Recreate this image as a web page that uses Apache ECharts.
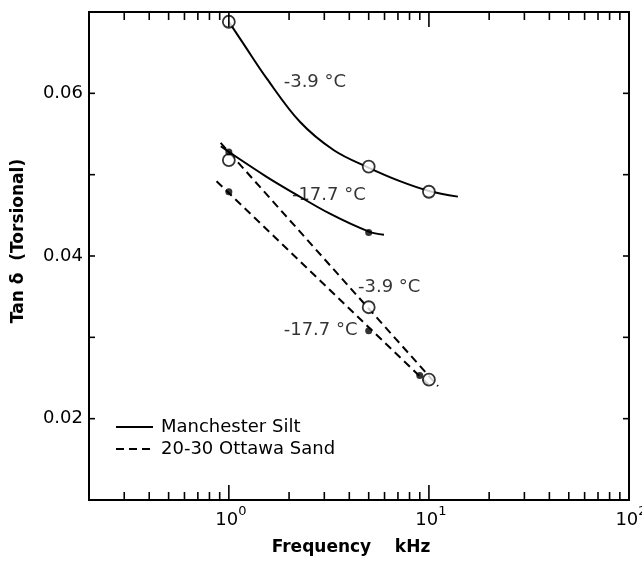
<!DOCTYPE html>
<html>
<head>
<meta charset="utf-8">
<script src="https://cdn.jsdelivr.net/npm/echarts@6/dist/echarts.min.js"></script>
<style>html,body{margin:0;padding:0;background:#fff}#c{width:642px;height:563px}</style>
</head>
<body>
<div id="c"></div>
<script>
// ---- data ----
// Manchester Silt, -3.9 C (open circles) and its drawn curve
const silt39Points = [[1, 0.0688], [5, 0.0510], [10, 0.0479]];
const silt39CurveX = [1, 1.175, 1.549, 2.265, 3.35, 4.95, 7.16, 10, 13.96];
const silt39CurveY = [0.0688, 0.0662, 0.0618, 0.0565, 0.0530, 0.0509, 0.0492, 0.0480, 0.0473];
// Manchester Silt, -17.7 C (filled dots) and its drawn curve
const silt177Points = [[1, 0.0528], [5, 0.0429]];
const silt177CurveX = [0.912, 1, 1.531, 2.089, 3.2, 5.01, 5.96];
const silt177CurveY = [0.0535, 0.0528, 0.0498, 0.0478, 0.0452, 0.0430, 0.0426];
// 20-30 Ottawa Sand, -3.9 C (open circles) and its straight line
const sand39Points = [[1, 0.0518], [5, 0.0337], [10, 0.0248]];
const sand39LineX = [0.91, 11.1];
const sand39LineY = [0.0539, 0.0240];
// 20-30 Ottawa Sand, -17.7 C (filled dots) and its straight line
const sand177Points = [[1, 0.0479], [5, 0.0308], [9, 0.0253]];
const sand177LineX = [0.868, 10.33];
const sand177LineY = [0.0492, 0.0238];
// curve annotations
const annoTexts = ['-3.9 °C', '-17.7 °C', '-3.9 °C', '-17.7 °C'];
const annoX = [1.88, 2.066, 4.42, 1.88];
const annoY = [0.0614, 0.0475, 0.0362, 0.0309];
// axes
const xMin = 0.2, xMax = 100, yMin = 0.01, yMax = 0.07;
const xMajorTicks = [1, 10];
const xMinorTicks = [0.3, 0.4, 0.5, 0.6, 0.7, 0.8, 0.9, 2, 3, 4, 5, 6, 7, 8, 9, 20, 30, 40, 50, 60, 70, 80, 90];
const yTicks = [0.02, 0.03, 0.04, 0.05, 0.06];
const yLabelValues = [0.02, 0.04, 0.06];
const xLabelExponents = [0, 1, 2];
const seriesNames = ['Manchester Silt', '20-30 Ottawa Sand'];

const FONT = 'DejaVu Sans';
const zip = (xs, ys) => xs.map((x, i) => [x, ys[i]]);

function xTickSeries(values, len) {
  return {
    type: 'custom', coordinateSystem: 'cartesian2d', silent: true, clip: false, z: 5,
    data: values.map(v => [v, yMin]),
    renderItem: function (params, api) {
      const b = api.coord([api.value(0), yMin]);
      const t = api.coord([api.value(0), yMax]);
      const st = { stroke: '#000', lineWidth: 1.6 };
      return { type: 'group', children: [
        { type: 'line', shape: { x1: b[0], y1: b[1], x2: b[0], y2: b[1] - len }, style: st },
        { type: 'line', shape: { x1: t[0], y1: t[1], x2: t[0], y2: t[1] + len }, style: st }
      ]};
    }
  };
}
function yTickSeries(values, len) {
  return {
    type: 'custom', coordinateSystem: 'cartesian2d', silent: true, clip: false, z: 5,
    data: values.map(v => [xMin, v]),
    renderItem: function (params, api) {
      const l = api.coord([xMin, api.value(1)]);
      const r = api.coord([xMax, api.value(1)]);
      const st = { stroke: '#000', lineWidth: 1.6 };
      return { type: 'group', children: [
        { type: 'line', shape: { x1: l[0], y1: l[1], x2: l[0] + len, y2: l[1] }, style: st },
        { type: 'line', shape: { x1: r[0], y1: r[1], x2: r[0] - len, y2: r[1] }, style: st }
      ]};
    }
  };
}

const solid = { color: '#000', width: 2, type: 'solid' };
const dashed = { color: '#000', width: 2, type: [8, 5] };

const option = {
  animation: false,
  backgroundColor: '#fff',
  textStyle: { fontFamily: FONT, color: '#000' },
  grid: { left: 89, right: 13, top: 12, bottom: 63, outerBoundsMode: 'none', containLabel: false,
    show: true, borderColor: '#000', borderWidth: 2, backgroundColor: 'transparent' },
  graphic: [
    { type: 'line', shape: { x1: 116, y1: 427, x2: 153, y2: 427 }, style: { stroke: '#000', lineWidth: 2 } },
    { type: 'line', shape: { x1: 116, y1: 449, x2: 153, y2: 449 }, style: { stroke: '#000', lineWidth: 2, lineDash: [8, 5] } },
    { type: 'text', x: 161, y: 427, style: { text: seriesNames[0], fontFamily: FONT, fontSize: 18, fill: '#000', verticalAlign: 'middle' } },
    { type: 'text', x: 161, y: 449, style: { text: seriesNames[1], fontFamily: FONT, fontSize: 18, fill: '#000', verticalAlign: 'middle' } }
  ],
  xAxis: {
    type: 'log', logBase: 10, min: xMin, max: xMax,
    axisLine: { show: false }, axisTick: { show: false }, splitLine: { show: false },
    name: 'Frequency    kHz', nameLocation: 'middle', nameGap: 39,
    nameTextStyle: { fontFamily: FONT, fontSize: 17, fontWeight: 'bold', color: '#000', padding: [0, 16, 0, 0] },
    axisLabel: {
      margin: 5, color: '#000', padding: [0, 0, 0, 4],
      formatter: function (v) {
        const e = Math.round(Math.log10(v));
        if (Math.abs(Math.log10(v) - e) < 1e-6 && xLabelExponents.indexOf(e) >= 0) return '{b|10}{s|' + e + '}';
        return '';
      },
      rich: {
        b: { fontFamily: FONT, fontSize: 18, lineHeight: 24, verticalAlign: 'bottom', color: '#000' },
        s: { fontFamily: FONT, fontSize: 13, lineHeight: 24, verticalAlign: 'top', color: '#000' }
      }
    }
  },
  yAxis: {
    type: 'value', min: yMin, max: yMax, interval: 0.01,
    axisLine: { show: false }, axisTick: { show: false }, splitLine: { show: false },
    name: 'Tan δ  (Torsional)', nameLocation: 'middle', nameGap: 62,
    nameTextStyle: { fontFamily: FONT, fontSize: 17, fontWeight: 'bold', color: '#000', padding: [0, 0, 0, 30] },
    axisLabel: {
      margin: 6, fontFamily: FONT, fontSize: 18, color: '#000',
      formatter: function (v) {
        return yLabelValues.some(t => Math.abs(t - v) < 1e-9) ? v.toFixed(2) : '';
      }
    }
  },
  series: [
    xTickSeries(xMajorTicks, 15),
    xTickSeries(xMinorTicks, 8),
    yTickSeries(yTicks, 6),
    { name: seriesNames[0], type: 'line', smooth: 0.35, symbol: 'none', lineStyle: solid, itemStyle: { color: '#000' }, data: zip(silt39CurveX, silt39CurveY), z: 3 },
    { name: seriesNames[0], type: 'line', smooth: 0.35, symbol: 'none', lineStyle: solid, itemStyle: { color: '#000' }, data: zip(silt177CurveX, silt177CurveY), z: 3 },
    { name: seriesNames[1], type: 'line', symbol: 'none', lineStyle: dashed, itemStyle: { color: '#000' }, data: zip(sand39LineX, sand39LineY), z: 3 },
    { name: seriesNames[1], type: 'line', symbol: 'none', lineStyle: dashed, itemStyle: { color: '#000' }, data: zip(sand177LineX, sand177LineY), z: 3 },
    { name: 'open-silt', type: 'scatter', symbol: 'circle', symbolSize: 12, itemStyle: { color: '#fff', borderColor: '#000', borderWidth: 1.8 }, data: silt39Points, z: 4 },
    { name: 'open-sand', type: 'scatter', symbol: 'circle', symbolSize: 12, itemStyle: { color: '#fff', borderColor: '#000', borderWidth: 1.8 }, data: sand39Points, z: 4 },
    { name: 'filled-silt', type: 'scatter', symbol: 'circle', symbolSize: 7, itemStyle: { color: '#000' }, data: silt177Points, z: 4 },
    { name: 'filled-sand', type: 'scatter', symbol: 'circle', symbolSize: 7, itemStyle: { color: '#000' }, data: sand177Points, z: 4 },
    {
      name: 'annotations', type: 'scatter', symbolSize: 0, silent: true, z: 6,
      data: annoX.map((x, i) => [x, annoY[i], annoTexts[i]]),
      label: { show: true, position: 'right', distance: 0, fontFamily: FONT, fontSize: 18, color: '#000',
        formatter: p => p.data[2] }
    }
  ]
};
const chart = echarts.init(document.getElementById('c'), null, { renderer: 'canvas' });
chart.setOption(option);
</script>
</body>
</html>
